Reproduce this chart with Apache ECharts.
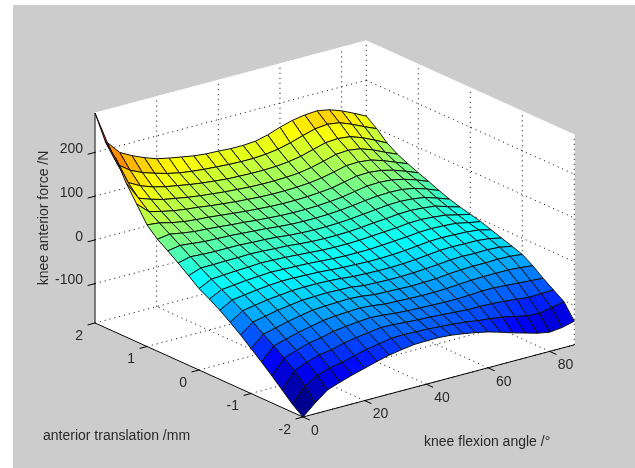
<!DOCTYPE html>
<html>
<head>
<meta charset="utf-8">
<style>html,body{margin:0;padding:0;background:#fff}#chart{width:635px;height:468px}</style>
<script src="https://cdn.jsdelivr.net/npm/echarts@6/dist/echarts.min.js"></script>
</head>
<body>
<div id="chart"></div>
<script>
// knee flexion angle of each grid column
var flexionAngles = [0,4,8,12,16,20,24,28,32,36,40,44,48,52,56,60,64,68,72,76,80,84,88];
// anterior translation of each value inside a column
var translations = [2,1.8,1.6,1.4,1.2,1,0.8,0.6,0.4,0.2,0,-0.2,-0.4,-0.6,-0.8,-1,-1.2,-1.4,-1.6,-1.8,-2];
// anterior force, one line per flexion angle
var force = [
    [290,235,208,162,125,88,66,50,33,15,-4,-17,-32,-49,-67,-87,-107,-128,-150,-172,-190],
    [215,175,145,120,100,85,70,55,40,25,10,-3,-16,-30,-45,-62,-78,-95,-113,-137,-165],
    [185,155,130,110,93,78,65,52,38,25,12,0,-12,-25,-39,-55,-70,-85,-101,-121,-143],
    [170,142,120,102,87,73,61,49,37,26,14,3,-8,-20,-33,-48,-62,-76,-92,-111,-133],
    [158,133,113,97,83,70,59,48,37,26,15,5,-5,-17,-29,-42,-56,-71,-88,-106,-124],
    [148,125,108,92,80,68,57,47,37,27,17,7,-3,-14,-25,-37,-50,-64,-80,-98,-116],
    [142,119,103,88,76,65,54,45,35,26,16,6,-3,-13,-24,-35,-47,-60,-75,-91,-108],
    [137,115,99,85,73,62,52,43,34,24,15,5,-4,-13,-23,-34,-45,-57,-71,-86,-101],
    [132,112,96,82,70,59,49,41,32,23,13,4,-5,-14,-24,-33,-44,-55,-67,-81,-96],
    [129,110,93,80,68,57,47,38,29,20,11,2,-7,-16,-25,-35,-46,-57,-68,-80,-92],
    [128,108,92,78,66,55,45,36,27,18,9,0,-9,-19,-29,-39,-50,-60,-70,-81,-91],
    [126,107,91,77,65,54,44,35,26,17,8,-1,-10,-20,-30,-40,-51,-62,-72,-82,-91],
    [126,107,91,77,65,54,44,35,26,17,8,-1,-11,-21,-31,-41,-52,-63,-73,-84,-93],
    [128,109,92,78,66,55,45,36,27,18,9,-1,-11,-21,-31,-42,-53,-64,-75,-86,-97],
    [135,113,95,80,68,57,47,38,29,20,11,1,-10,-20,-30,-41,-53,-65,-77,-89,-102],
    [145,120,100,85,72,60,50,41,32,23,13,3,-8,-18,-28,-40,-52,-65,-79,-93,-108],
    [153,129,108,92,78,66,55,45,35,25,15,5,-5,-15,-26,-37,-50,-64,-79,-96,-116],
    [158,137,116,100,85,72,60,48,38,28,18,8,-2,-12,-23,-35,-48,-62,-80,-100,-125],
    [160,140,118,102,86,73,61,49,39,29,19,9,-1,-11,-22,-34,-47,-62,-82,-106,-133],
    [155,136,115,98,83,70,59,48,37,27,17,8,-2,-12,-23,-34,-47,-64,-85,-112,-141],
    [145,125,105,88,74,63,53,43,33,24,14,6,-3,-12,-22,-33,-47,-66,-88,-114,-146],
    [132,112,92,75,63,53,44,34,24,15,7,0,-6,-15,-24,-34,-49,-68,-87,-108,-143],
    [118,100,78,63,52,42,33,23,14,7,1,-5,-13,-21,-29,-37,-52,-70,-86,-102,-136]
];
var xTicks = [0,20,40,60,80];
var yTicks = [2,1,0,-1,-2];
var zTicks = [-100,0,100,200];
var xLim = [0,88];
var yLim = [-2,2];
var zLim = [-190,290];
var colorLim = [-190,305];
var jet = ['#00008f','#0000ff','#0080ff','#00ffff','#80ff80','#ffff00','#ff8000','#ff0000','#800000'];

var font = '14px "Liberation Sans", Arial, sans-serif';
var textColor = '#2a2a2a';

// fixed view, maps a 3d point onto the hidden 2d axes
function project(x, y, z){
    return [
        303 + x * 3.083 - (y + 2) * 52,
        417 - x * 0.82 - (y + 2) * 23.5 - (z + 190) * 0.4375
    ];
}

function renderFrame(params, api){
    function p(x, y, z){ return api.coord(project(x, y, z)); }
    function wall(a, b, c, d){
        return {type:'polygon', shape:{points:[a,b,c,d]}, style:{fill:'#fff', stroke:'#fff', lineWidth:1}};
    }
    function seg(a, b, dotted){
        return {type:'line', shape:{x1:a[0],y1:a[1],x2:b[0],y2:b[1]},
            style:{stroke:'#000', lineWidth:1, lineDash:dotted ? [1,4] : null}};
    }
    function label(text, pt, dx, dy, align){
        return {type:'text', style:{text:text, x:pt[0]+dx, y:pt[1]+dy, align:align, verticalAlign:'middle', font:font, fill:textColor}};
    }
    var X = xLim[1], Y0 = yLim[0], Y1 = yLim[1], Z0 = zLim[0], Z1 = zLim[1];
    var kids = [
        wall(p(0,Y0,Z0), p(X,Y0,Z0), p(X,Y1,Z0), p(0,Y1,Z0)),
        wall(p(0,Y1,Z0), p(X,Y1,Z0), p(X,Y1,Z1), p(0,Y1,Z1)),
        wall(p(X,Y1,Z0), p(X,Y0,Z0), p(X,Y0,Z1), p(X,Y1,Z1))
    ];
    xTicks.forEach(function(x){
        if(x > 0){
            kids.push(seg(p(x,Y0,Z0), p(x,Y1,Z0), true));
            kids.push(seg(p(x,Y1,Z0), p(x,Y1,Z1), true));
        }
    });
    yTicks.forEach(function(y){
        kids.push(seg(p(0,y,Z0), p(X,y,Z0), true));
        kids.push(seg(p(X,y,Z0), p(X,y,Z1), true));
    });
    zTicks.forEach(function(z){
        kids.push(seg(p(0,Y1,z), p(X,Y1,z), true));
        kids.push(seg(p(X,Y1,z), p(X,Y0,z), true));
    });
    // solid axes
    kids.push(seg(p(0,Y1,Z0), p(0,Y1,Z1)));
    kids.push(seg(p(0,Y1,Z0), p(0,Y0,Z0)));
    kids.push(seg(p(0,Y0,Z0), p(X,Y0,Z0)));
    xTicks.forEach(function(x){
        kids.push(seg(p(x,Y0,Z0), p(x,Y0-0.13,Z0)));
        kids.push(label(String(x), p(x,Y0,Z0), 8, 14, 'left'));
    });
    yTicks.forEach(function(y){
        kids.push(seg(p(0,y,Z0), p(-2.4,y,Z0)));
        kids.push(label(String(y), p(0,y,Z0), -12, 13, 'right'));
    });
    zTicks.forEach(function(z){
        kids.push(seg(p(0,Y1,z), p(-2.4,Y1,z)));
        kids.push(label(String(z), p(0,Y1,z), -12, -3, 'right'));
    });
    return {type:'group', children:kids};
}

function renderCell(params, api){
    var c = api.value(0), r = api.value(1);
    function p(cc, rr){
        return api.coord(project(flexionAngles[cc], translations[rr], force[cc][rr]));
    }
    // face takes the colour of its lowest angle, lowest translation corner
    var t = (force[c][r+1] - colorLim[0]) / (colorLim[1] - colorLim[0]);
    return {
        type:'polygon',
        shape:{points:[p(c,r), p(c+1,r), p(c+1,r+1), p(c,r+1)]},
        style:{fill:echarts.color.lerp(t, jet), stroke:'#111', lineWidth:1}
    };
}

// back to front so the near faces cover the far ones
var cells = [];
for(var c = flexionAngles.length - 2; c >= 0; c--){
    for(var r = 0; r < translations.length - 1; r++){
        cells.push([c, r]);
    }
}

var chart = echarts.init(document.getElementById('chart'), null, {renderer:'canvas'});
chart.setOption({
    animation:false,
    backgroundColor:'#fff',
    grid:{left:0, right:0, top:0, bottom:0},
    xAxis:{type:'value', min:0, max:635, show:false},
    yAxis:{type:'value', min:0, max:468, inverse:true, show:false},
    graphic:[
        {type:'rect', shape:{x:13, y:5, width:622, height:463}, style:{fill:'#cccccc'}, z:-10},
        {type:'text', style:{text:'anterior translation /mm', x:43, y:436, verticalAlign:'middle', font:font, fill:textColor}},
        {type:'text', style:{text:'knee flexion angle /°', x:424, y:442, verticalAlign:'middle', font:font, fill:textColor}},
        {type:'text', rotation:Math.PI/2, x:44, y:218, style:{text:'knee anterior force /N', align:'center', verticalAlign:'middle', font:font, fill:textColor}}
    ],
    series:[
        {type:'custom', coordinateSystem:'cartesian2d', silent:true, clip:false, z:1, data:[[0,0]], renderItem:renderFrame},
        {type:'custom', coordinateSystem:'cartesian2d', silent:true, clip:false, z:2, data:cells, renderItem:renderCell}
    ]
});
</script>
</body>
</html>
